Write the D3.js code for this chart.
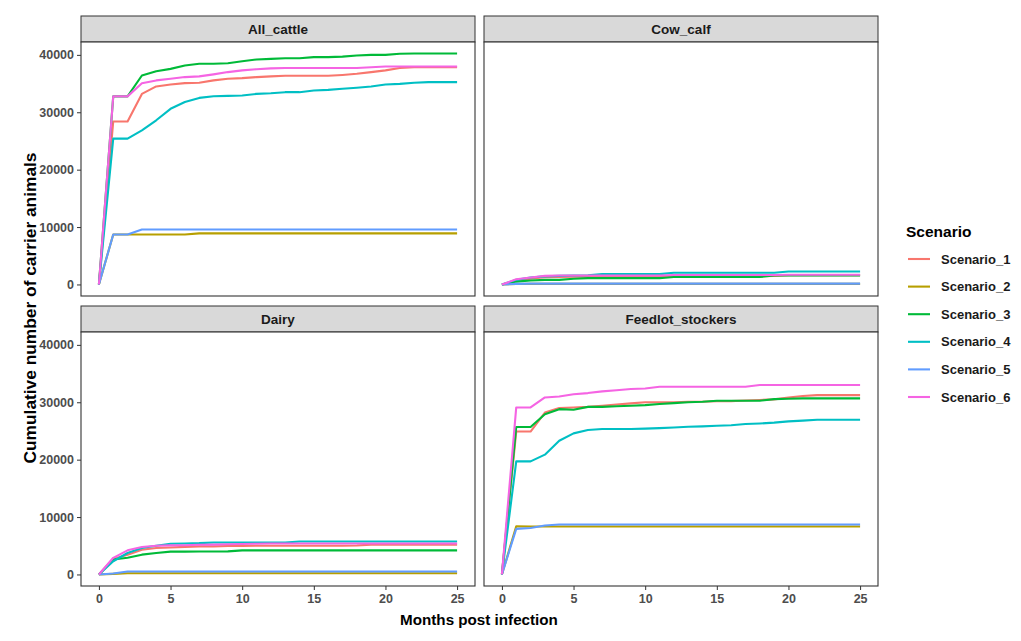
<!DOCTYPE html>
<html>
<head>
<meta charset="utf-8">
<script src="https://cdn.jsdelivr.net/npm/d3@7"></script>
<style>
  body { margin: 0; background: #fff; }
  svg { font-family: "Liberation Sans", Arial, sans-serif; }
</style>
</head>
<body>
<svg id="chart" width="1021" height="641"></svg>
<script>
// months post infection
var months = [0,1,2,3,4,5,6,7,8,9,10,11,12,13,14,15,16,17,18,19,20,21,22,23,24,25];
var scenarios = ["Scenario_1","Scenario_2","Scenario_3","Scenario_4","Scenario_5","Scenario_6"];
var colors = ["#F8766D","#B79F00","#00BA38","#00BFC4","#619CFF","#F564E3"];
var facets = ["All_cattle","Cow_calf","Dairy","Feedlot_stockers"];
var yTicks = [0,10000,20000,30000,40000];
var xTicks = [0,5,10,15,20,25];

// cumulative carriers, one array per scenario, per facet
var allS1 = [0,28400,28400,33200,34500,34850,35070,35150,35550,35840,35950,36130,36250,36350,36350,36350,36350,36500,36700,37000,37300,37700,37850,37850,37850,37850];
var allS2 = [0,8700,8700,8700,8700,8700,8700,8900,8900,8900,8900,8900,8900,8900,8900,8900,8900,8900,8900,8900,8900,8900,8900,8900,8900,8900];
var allS3 = [0,32770,32770,36400,37150,37560,38150,38440,38440,38550,38900,39200,39300,39400,39400,39600,39600,39700,39900,40000,40000,40200,40230,40230,40230,40230];
var allS4 = [0,25400,25400,26850,28600,30600,31800,32500,32800,32850,32930,33200,33300,33500,33500,33800,33900,34100,34280,34500,34850,34950,35150,35250,35250,35250];
var allS5 = [0,8700,8700,9570,9570,9570,9570,9570,9570,9570,9570,9570,9570,9570,9570,9570,9570,9570,9570,9570,9570,9570,9570,9570,9570,9570];
var allS6 = [0,32770,32770,35070,35550,35840,36130,36250,36600,37000,37300,37500,37650,37700,37700,37700,37700,37700,37700,37850,37970,37970,37970,37970,37970,37970];

var cowS1 = [0,600,1000,1250,1300,1350,1350,1400,1400,1400,1400,1400,1450,1450,1450,1450,1450,1450,1450,1500,1600,1600,1600,1600,1600,1600];
var cowS2 = [0,80,100,100,100,100,100,100,100,100,100,100,100,100,100,100,100,100,100,100,100,100,100,100,100,100];
var cowS3 = [0,500,700,800,800,1000,1100,1100,1100,1100,1100,1100,1300,1300,1300,1300,1300,1300,1300,1550,1550,1550,1550,1550,1550,1550];
var cowS4 = [0,800,1200,1400,1500,1550,1600,1800,1800,1800,1800,1800,2050,2050,2050,2050,2050,2050,2050,2050,2250,2250,2250,2250,2250,2250];
var cowS5 = [0,100,150,150,150,150,150,150,150,150,150,150,150,150,150,150,150,150,150,150,150,150,150,150,150,150];
var cowS6 = [0,900,1200,1500,1550,1550,1550,1550,1550,1550,1550,1550,1650,1650,1650,1650,1650,1650,1650,1650,1700,1700,1700,1700,1700,1700];

var dairyS1 = [0,2700,3450,4300,4600,4700,4800,4900,4900,4950,4950,5000,5000,5000,5000,5000,5000,5000,5050,5200,5200,5200,5200,5200,5200,5200];
var dairyS2 = [0,100,200,200,200,200,200,200,200,200,200,200,200,200,200,200,200,200,200,200,200,200,200,200,200,200];
var dairyS3 = [0,2600,2900,3450,3740,3970,3970,4000,4000,4020,4200,4200,4200,4200,4200,4200,4200,4200,4200,4200,4200,4200,4200,4200,4200,4200];
var dairyS4 = [0,2300,3740,4600,5000,5350,5400,5460,5580,5580,5580,5580,5580,5580,5750,5750,5750,5750,5750,5750,5750,5750,5750,5750,5750,5750];
var dairyS5 = [0,170,520,520,520,520,520,520,520,520,520,520,520,520,520,520,520,520,520,520,520,520,520,520,520,520];
var dairyS6 = [0,2900,4200,4770,5000,5060,5100,5175,5200,5250,5300,5350,5400,5400,5400,5400,5400,5400,5400,5400,5400,5400,5400,5400,5400,5400];

var feedS1 = [0,24900,24900,28200,29000,29100,29200,29400,29600,29800,30000,30000,30000,30100,30100,30200,30200,30300,30400,30500,30840,31100,31250,31250,31250,31250];
var feedS2 = [0,8400,8350,8350,8350,8350,8350,8350,8350,8350,8350,8350,8350,8350,8350,8350,8350,8350,8350,8350,8350,8350,8350,8350,8350,8350];
var feedS3 = [0,25700,25700,27900,28800,28700,29200,29200,29300,29400,29500,29700,29850,30000,30100,30260,30260,30260,30260,30550,30600,30670,30670,30670,30670,30670];
var feedS4 = [0,19700,19700,20870,23300,24580,25160,25330,25330,25330,25400,25500,25600,25740,25800,25900,26000,26200,26300,26450,26670,26800,26950,26950,26950,26950];
var feedS5 = [0,7940,8100,8520,8700,8700,8700,8700,8700,8700,8700,8700,8700,8700,8700,8700,8700,8700,8700,8700,8700,8700,8700,8700,8700,8700];
var feedS6 = [0,29100,29100,30840,31000,31400,31600,31900,32100,32300,32400,32700,32700,32700,32700,32700,32700,32700,33000,33000,33000,33000,33000,33000,33000,33000];

var facetData = {
  "All_cattle": [allS1, allS2, allS3, allS4, allS5, allS6],
  "Cow_calf": [cowS1, cowS2, cowS3, cowS4, cowS5, cowS6],
  "Dairy": [dairyS1, dairyS2, dairyS3, dairyS4, dairyS5, dairyS6],
  "Feedlot_stockers": [feedS1, feedS2, feedS3, feedS4, feedS5, feedS6]
};

var svg = d3.select("#chart");

// panel layout (facet_wrap 2x2, fixed scales)
var colX = [81, 484], panelW = 394;
var rowY = [16, 306], stripH = 26, panelH = 254;

var yMax = d3.max(facets, function(f){ return d3.max(facetData[f], function(s){ return d3.max(s); }); });
var yPad = yMax * 0.05;
var xPad = 25 * 0.05;

var x = d3.scaleLinear().domain([-xPad, 25 + xPad]).range([0, panelW]);
var y = d3.scaleLinear().domain([-yPad, yMax + yPad]).range([panelH, 0]);

var line = d3.line()
  .x(function(d, i){ return x(months[i]); })
  .y(function(d){ return y(d); });

facets.forEach(function(f, k){
  var col = k % 2, row = Math.floor(k / 2);
  var g = svg.append("g").attr("transform", "translate(" + colX[col] + "," + rowY[row] + ")");

  // strip
  g.append("rect").attr("x", 0).attr("y", 0).attr("width", panelW).attr("height", stripH)
    .attr("fill", "#D9D9D9").attr("stroke", "#333").attr("stroke-width", 1);
  g.append("text").attr("x", panelW / 2).attr("y", stripH / 2 + 5)
    .attr("text-anchor", "middle").style("font-size", "13.5px").style("font-weight", "bold")
    .attr("fill", "#1A1A1A").text(f);

  var p = g.append("g").attr("transform", "translate(0," + stripH + ")");
  p.append("rect").attr("width", panelW).attr("height", panelH).attr("fill", "#fff");

  var lines = p.append("g");
  facetData[f].forEach(function(s, j){
    lines.append("path").datum(s)
      .attr("d", line)
      .attr("fill", "none")
      .attr("stroke", colors[j])
      .attr("stroke-width", 2.1)
      .attr("stroke-linejoin", "round");
  });

  p.append("rect").attr("width", panelW).attr("height", panelH)
    .attr("fill", "none").attr("stroke", "#333").attr("stroke-width", 1.1);

  if (col === 0) {
    var ya = p.append("g").call(d3.axisLeft(y).tickValues(yTicks).tickSize(4).tickPadding(3).tickFormat(d3.format("d")));
    ya.select(".domain").remove();
    ya.selectAll("line").attr("stroke", "#333");
    ya.selectAll("text").attr("fill", "#4D4D4D").style("font-size", "12.5px").style("font-weight", "bold")
      .style("font-family", "Liberation Sans, Arial, sans-serif");
  }
  if (row === 1) {
    var xa = p.append("g").attr("transform", "translate(0," + panelH + ")")
      .call(d3.axisBottom(x).tickValues(xTicks).tickSize(4).tickPadding(4));
    xa.select(".domain").remove();
    xa.selectAll("line").attr("stroke", "#333");
    xa.selectAll("text").attr("fill", "#4D4D4D").style("font-size", "12.5px").style("font-weight", "bold")
      .style("font-family", "Liberation Sans, Arial, sans-serif");
  }
});

// axis titles
svg.append("text").attr("x", 479).attr("y", 625).attr("text-anchor", "middle")
  .style("font-size", "15.2px").style("font-weight", "bold").text("Months post infection");
svg.append("text").attr("transform", "translate(36,308) rotate(-90)").attr("text-anchor", "middle")
  .attr("textLength", 311).attr("lengthAdjust", "spacingAndGlyphs")
  .style("font-size", "16px").style("font-weight", "bold").text("Cumulative number of carrier animals");

// legend
var lg = svg.append("g").attr("transform", "translate(905,0)");
lg.append("text").attr("x", 1).attr("y", 237).style("font-size", "15.5px").style("font-weight", "bold").text("Scenario");
scenarios.forEach(function(s, j){
  var yy = 259 + j * 27.6;
  lg.append("line").attr("x1", 3).attr("x2", 25).attr("y1", yy).attr("y2", yy)
    .attr("stroke", colors[j]).attr("stroke-width", 2.1);
  lg.append("text").attr("x", 36).attr("y", yy + 4.5).style("font-size", "13px").style("font-weight", "bold")
    .attr("fill", "#1A1A1A").text(s);
});
</script>
</body>
</html>
